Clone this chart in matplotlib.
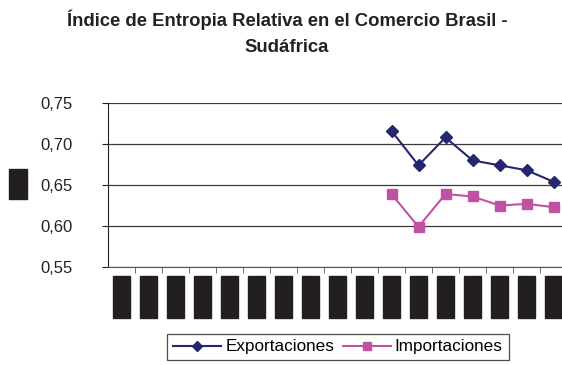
import numpy as np
import matplotlib.pyplot as plt

plt.rcParams['font.family'] = ['Liberation Sans', 'DejaVu Sans']

# Data
years = [str(y) for y in range(1990, 2007)]
export_years = years[10:]
exportaciones = [0.716, 0.674, 0.708, 0.680, 0.674, 0.668, 0.654]
importaciones = [0.639, 0.599, 0.639, 0.636, 0.625, 0.627, 0.623]
yticks = [0.55, 0.60, 0.65, 0.70, 0.75]
ylabels = ["0,55", "0,60", "0,65", "0,70", "0,75"]

blk = '#231f20'
navy = '#25276e'
pink = '#c052a4'


def main():
    fig = plt.figure(figsize=(5.62, 3.65), dpi=100)
    ax = fig.add_axes([108 / 562, 98 / 365, 459 / 562, 164 / 365])

    x_all = np.arange(len(years))
    x_data = np.array([years.index(y) for y in export_years])

    ax.plot(x_data, exportaciones, color=navy, lw=1.5, marker='D', ms=6,
            label='Exportaciones')
    ax.plot(x_data, importaciones, color=pink, lw=1.5, marker='s', ms=6.5,
            label='Importaciones')

    ax.set_xlim(-0.5, len(years) - 0.5)
    ax.set_ylim(0.55, 0.75)
    ax.set_yticks(yticks)
    ax.set_yticklabels(ylabels, fontsize=12, color='#222222')
    ax.tick_params(axis='y', length=4, pad=21.5, color=blk)
    ax.grid(axis='y', color='#3a3a3a', lw=0.9)
    ax.set_axisbelow(True)

    # category ticks between categories, labels (redacted) at centres
    ax.set_xticks(x_all[:-1] + 0.5, minor=True)
    ax.set_xticks(x_all)
    ax.set_xticklabels(['   ' + y + '   ' for y in years], rotation=90,
                       fontsize=6.5, color=blk)
    for t in ax.get_xticklabels():
        t.set_bbox(dict(boxstyle='square,pad=0.4', fc=blk, ec=blk))
    ax.tick_params(axis='x', which='major', length=0, pad=9)
    ax.tick_params(axis='x', which='minor', length=4, color='#555555')

    for s in ['top', 'right']:
        ax.spines[s].set_visible(False)
    ax.spines['left'].set_color(blk)
    ax.spines['bottom'].set_color('#555555')

    # y label (redacted)
    fig.text(18 / 562, 1 - 184 / 365, 'ndice', rotation=90, fontsize=7,
             color=blk, ha='center', va='center',
             bbox=dict(boxstyle='square,pad=0.4', fc=blk, ec=blk))

    fig.text(287 / 562, 1 - 20 / 365,
             'Índice de Entropia Relativa en el Comercio Brasil -',
             fontsize=13.3, fontweight='bold', ha='center', va='center',
             color='#222222')
    fig.text(287 / 562, 1 - 47 / 365, 'Sudáfrica',
             fontsize=13.3, fontweight='bold', ha='center', va='center',
             color='#222222')

    leg = fig.legend(loc='center', bbox_to_anchor=(338 / 562, 1 - 347 / 365),
                     ncol=2, fontsize=12.3, frameon=True, fancybox=False,
                     handlelength=2.8, columnspacing=0.5, handletextpad=0.25,
                     borderpad=0.35, markerscale=0.9)
    leg.get_frame().set_edgecolor(blk)
    leg.get_frame().set_linewidth(0.9)

    fig.savefig('out.png', dpi=100)


if __name__ == '__main__':
    main()
